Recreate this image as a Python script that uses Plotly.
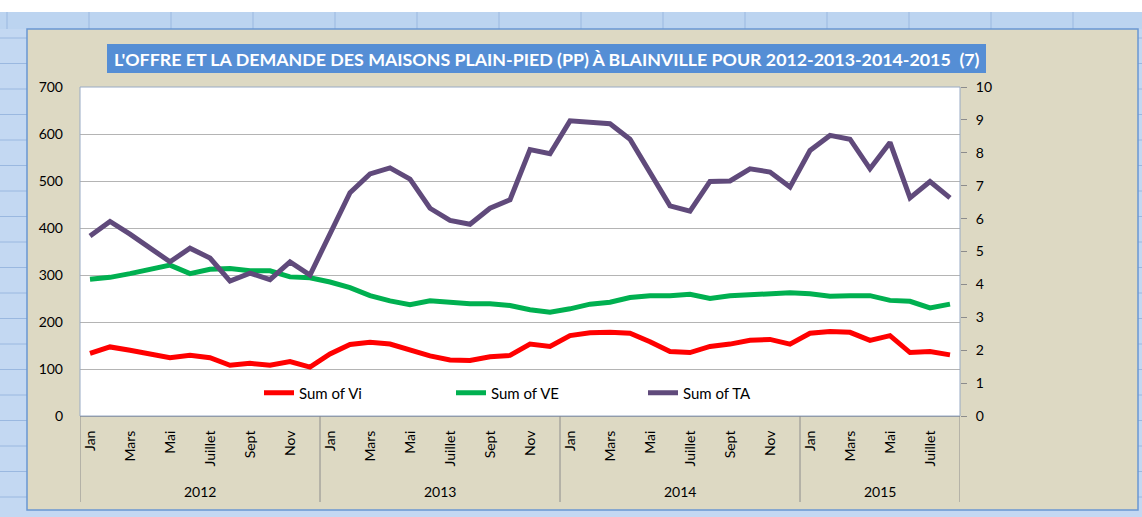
import plotly.graph_objects as go

# ---------------- data ----------------
month_names = ["Jan", "Fév", "Mars", "Avr", "Mai", "Juin", "Juillet", "Août", "Sept", "Oct", "Nov", "Déc"]
years = ["2012", "2013", "2014", "2015"]
months_per_year = [12, 12, 12, 8]

vi = [133, 147, 140, 133, 124, 129, 124, 108, 112, 108, 116, 104,
      132, 152, 157, 153, 140, 128, 119, 118, 126, 129, 153, 148,
      171, 177, 178, 176, 158, 137, 135, 148, 153, 161, 163, 153,
      176, 180, 178, 161, 171, 135, 137, 130]
ve = [291, 295, 303, 311, 321, 303, 312, 314, 309, 309, 296, 294,
      285, 273, 256, 245, 237, 245, 241, 239, 239, 235, 226, 221,
      228, 238, 242, 252, 256, 256, 259, 250, 256, 258, 262, 262,
      260, 255, 256, 256, 246, 244, 230, 238]
ta = [383, 414, 387, 358, 328, 357, 336, 287, 304, 290, 328, 300,
      389, 475, 515, 528, 504, 442, 416, 408, 442, 460, 567, 558,
      628, 624, 622, 589, 520, 447, 436, 499, 500, 526, 519, 487,
      565, 597, 589, 526, 582, 464, 499, 464]

series_names = ["Sum of Vi", "Sum of VE", "Sum of TA"]
series_colors = ["#ff0000", "#00b050", "#604a7b"]
title_text = "L'OFFRE ET LA DEMANDE DES MAISONS PLAIN-PIED (PP) À BLAINVILLE POUR 2012-2013-2014-2015\u00a0\u00a0(7)"

# ---------------- layout geometry ----------------
W, H = 1142, 517
L, R, T, B = 80, 182, 87, 101
PW, PH = W - L - R, H - T - B


def px(X):
    return (X - L) / PW


def py(Y):
    return (H - B - Y) / PH


FONT = "Lato"

x_idx = list(range(len(vi)))
month_labels = []
for n in months_per_year:
    month_labels += month_names[:n]

fig = go.Figure()
for name, col, vals in zip(series_names, series_colors, [vi, ve, ta]):
    fig.add_trace(go.Scatter(x=x_idx, y=vals, mode="lines", name=name,
                             line=dict(color=col, width=5)))
# invisible trace for right axis
fig.add_trace(go.Scatter(x=[0], y=[0], yaxis="y2", mode="markers",
                         marker=dict(opacity=0), showlegend=False, hoverinfo="skip"))

shapes = []
# spreadsheet background decor
shapes.append(dict(type="rect", xref="paper", yref="paper", x0=px(0), x1=px(W), y0=py(0), y1=py(12),
                   fillcolor="white", line=dict(width=0), layer="below"))
shapes.append(dict(type="rect", xref="paper", yref="paper", x0=px(0), x1=px(W), y0=py(12), y1=py(29),
                   fillcolor="#bcd4f0", line=dict(width=0), layer="below"))
for k in range(14):
    X = 7 + 82 * k
    shapes.append(dict(type="line", xref="paper", yref="paper", x0=px(X), x1=px(X), y0=py(12), y1=py(29),
                       line=dict(color="#9ab8e0", width=1), layer="below"))
for k in range(20):
    Y = 38 + 25.5 * k
    shapes.append(dict(type="line", xref="paper", yref="paper", x0=px(0), x1=px(W), y0=py(Y), y1=py(Y),
                       line=dict(color="#9ab8e0", width=1), layer="below"))
# chart area
shapes.append(dict(type="rect", xref="paper", yref="paper", x0=px(27), x1=px(1138), y0=py(29), y1=py(510),
                   fillcolor="#ddd9c3", line=dict(color="#6a97d2", width=1.5), layer="below"))
# plot area
shapes.append(dict(type="rect", xref="paper", yref="paper", x0=0, x1=1, y0=0, y1=1,
                   fillcolor="white", line=dict(width=0), layer="below"))
# title box
shapes.append(dict(type="rect", xref="paper", yref="paper", x0=px(107), x1=px(986), y0=py(44), y1=py(73),
                   fillcolor="#558ed5", line=dict(width=0), layer="below"))
# plot border (light blue-gray)
shapes.append(dict(type="rect", xref="paper", yref="paper", x0=0, x1=1, y0=0, y1=1,
                   fillcolor="rgba(0,0,0,0)", line=dict(color="#98aac4", width=1), layer="above"))
# year separators
bounds = [0]
for n in months_per_year:
    bounds.append(bounds[-1] + n)
for b in bounds:
    shapes.append(dict(type="line", xref="x", yref="paper", x0=b - 0.5, x1=b - 0.5, y0=0, y1=py(502),
                       line=dict(color="#8c8c8c", width=1)))

annotations = [dict(text="<b>" + title_text + "</b>", xref="paper", yref="paper",
                    x=px(546.5), y=py(58.5), xanchor="center", yanchor="middle", showarrow=False,
                    font=dict(family=FONT, size=17.8, color="white"))]
for i, yr in enumerate(years):
    annotations.append(dict(text=yr, xref="x", yref="paper", x=(bounds[i] + bounds[i + 1] - 1) / 2,
                            y=py(491), xanchor="center", yanchor="middle", showarrow=False,
                            font=dict(family=FONT, size=14, color="black")))

fig.update_layout(
    width=W, height=H, autosize=False,
    margin=dict(l=L, r=R, t=T, b=B),
    paper_bgcolor="#c3d8f2", plot_bgcolor="white",
    shapes=shapes, annotations=annotations,
    font=dict(family=FONT, size=14, color="black"),
    showlegend=True,
    legend=dict(orientation="h", x=px(259), y=py(393), xanchor="left", yanchor="middle",
                bgcolor="rgba(0,0,0,0)", font=dict(family=FONT, size=15, color="black"),
                entrywidth=147, entrywidthmode="pixels"),
    xaxis=dict(range=[-0.5, len(vi) - 0.5], tickmode="array",
               tickvals=x_idx[::2], ticktext=month_labels[::2], tickangle=-90,
               showgrid=False, zeroline=False, showline=True, linecolor="#8c8c8c", linewidth=1,
               ticks="", ticklabelstandoff=8, tickfont=dict(family=FONT, size=14)),
    yaxis=dict(range=[0, 700], dtick=100, showgrid=True, gridcolor="#b4b4b4", gridwidth=1,
               zeroline=False, showline=False, ticks="", ticklabelstandoff=16,
               tickfont=dict(family=FONT, size=14)),
    yaxis2=dict(range=[0, 10], dtick=1, overlaying="y", side="right", showgrid=False,
                zeroline=False, showline=False, ticks="outside", ticklen=6, tickcolor="#8c8c8c",
                ticklabelstandoff=6, tickfont=dict(family=FONT, size=14)),
)

fig.write_html("out.html", config={"displayModeBar": False},
               post_script="document.body.style.margin='0px';document.body.style.overflow='hidden';")
